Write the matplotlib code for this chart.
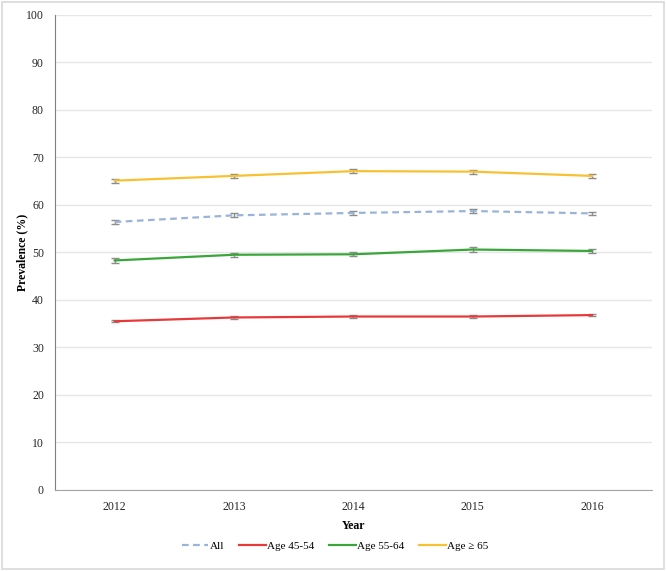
import matplotlib
matplotlib.use("Agg")
import matplotlib.pyplot as plt
from matplotlib.patches import Rectangle

years = ["2012", "2013", "2014", "2015", "2016"]
all_vals = [56.4, 57.8, 58.3, 58.7, 58.2]
age_45_54 = [35.5, 36.3, 36.5, 36.5, 36.8]
age_55_64 = [48.3, 49.5, 49.6, 50.6, 50.3]
age_65_plus = [65.1, 66.1, 67.1, 67.0, 66.1]
err_all = [0.4, 0.4, 0.4, 0.4, 0.4]
err_45_54 = [0.25, 0.25, 0.25, 0.25, 0.25]
err_55_64 = [0.45, 0.45, 0.45, 0.45, 0.45]
err_65_plus = [0.4, 0.4, 0.4, 0.4, 0.4]
yticks = [0, 10, 20, 30, 40, 50, 60, 70, 80, 90, 100]

plt.rcParams['font.family'] = ['Liberation Serif', 'DejaVu Serif']

fig = plt.figure(figsize=(6.66, 5.71), dpi=100)
fig.patches.append(Rectangle((0.003, 0.003), 0.994, 0.994, transform=fig.transFigure,
                             fill=False, edgecolor='#d9d9d9', linewidth=1.2))
ax = fig.add_axes([0.0826, 0.142, 0.896, 0.832])

x = list(range(len(years)))
series = [
    ("All", all_vals, err_all, '#9ab3d8', (0, (3, 2))),
    ("Age 45-54", age_45_54, err_45_54, '#e8393a', '-'),
    ("Age 55-64", age_55_64, err_55_64, '#3aa63a', '-'),
    ("Age \u2265 65", age_65_plus, err_65_plus, '#f7c131', '-'),
]
handles = []
for label, vals, err, color, ls in series:
    ax.errorbar(x, vals, yerr=err, fmt='none', ecolor='#8c8c8c', elinewidth=1.0,
                capsize=3, capthick=1.0, zorder=3)
    h, = ax.plot(x, vals, color=color, linestyle=ls, linewidth=1.6, label=label, zorder=4)
    handles.append(h)

ax.set_xlim(-0.5, 4.5)
ax.set_ylim(0, 100)
ax.set_xticks(x)
ax.set_xticklabels(years)
ax.set_yticks(yticks)
ax.grid(axis='y', color='#e6e6e6', linewidth=1.0)
ax.set_axisbelow(True)
for s in ['top', 'right']:
    ax.spines[s].set_visible(False)
ax.spines['left'].set_color('#7f7f7f')
ax.spines['bottom'].set_color('#a6a6a6')
ax.tick_params(length=0, labelsize=8.5, colors='#262626', pad=8)

ax.set_ylabel("Prevalence (%)", fontsize=8.5, fontweight='bold')
ax.yaxis.set_label_coords(-0.045, 0.5)
ax.set_xlabel("Year", fontsize=8.5, fontweight='bold', labelpad=5)

fig.legend(handles=handles, loc='center', bbox_to_anchor=(0.503, 0.044), ncol=4,
           frameon=False, fontsize=8, handlelength=2.4, handletextpad=0.1, columnspacing=1.35)

fig.savefig("out.png", dpi=100)
